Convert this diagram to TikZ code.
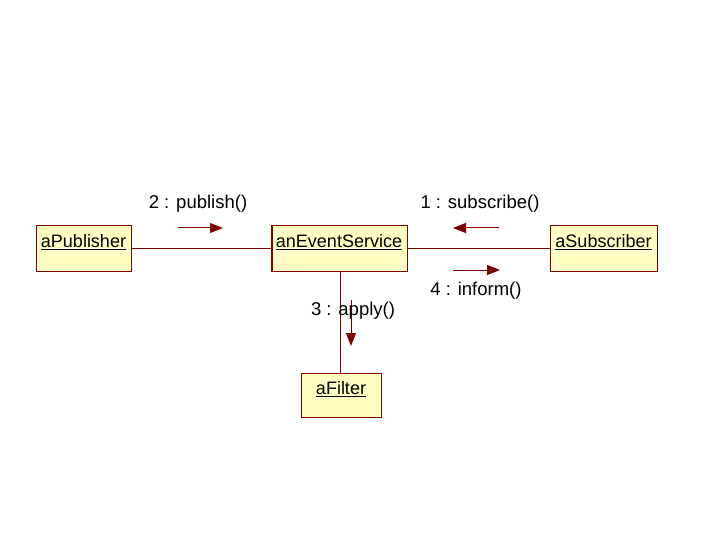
\documentclass[tikz,border=0pt]{standalone}
\usepackage{fontspec}
\setmainfont{Liberation Sans}
\usetikzlibrary{arrows.meta}
\definecolor{umlline}{RGB}{128,0,0}
\definecolor{umlfill}{RGB}{255,255,196}
\tikzset{
  obj/.style={draw=umlline, fill=umlfill, line width=1pt, inner sep=0pt},
  objtext/.style={font=\fontsize{18}{20}\selectfont, inner sep=0pt, anchor=base},
  lnk/.style={draw=umlline, line width=1pt},
  msg/.style={draw=umlline, line width=1pt, -{Triangle[length=13pt,width=10pt]}},
  msglabel/.style={font=\fontsize{18.5}{20}\selectfont, inner sep=0pt}
}
\begin{document}
\begin{tikzpicture}[x=1pt,y=-1pt]
\useasboundingbox (0,0) rectangle (720,540);
% object boxes
\path[obj] (36,226) rectangle (131,271);
\path[obj] (271,226) rectangle (407,271);
\path[obj] (550,226) rectangle (657,271);
\path[obj] (301,373) rectangle (381,417);
\node[objtext] (pub) at (83.5,247.5) {\underline{aPublisher}};
\node[objtext] (evt) at (339,247.5) {\underline{anEventService}};
\node[objtext] (sub) at (603.5,247.5) {\underline{aSubscriber}};
\node[objtext] (fil) at (341,394.5) {\underline{aFilter}};
% named anchors on box edges
\coordinate (pubR) at (131,248);
\coordinate (evtL) at (271,248);
\coordinate (evtR) at (407,248);
\coordinate (subL) at (550,248);
\coordinate (evtB) at (340,271);
\coordinate (filT) at (340,373);
% links
\draw[lnk] (pubR) -- (evtL);
\draw[lnk] (evtR) -- (subL);
\draw[lnk] (evtB) -- (filT);
\draw[umlline, line width=2pt] (272,226) -- (272,271);
% messages
\coordinate (m2a) at (178,228); \coordinate (m2b) at (223,228);
\coordinate (m1a) at (499,228); \coordinate (m1b) at (453,228);
\coordinate (m4a) at (453,270); \coordinate (m4b) at (500,270);
\coordinate (m3a) at (351,300); \coordinate (m3b) at (351,346);
\draw[msg] (m2a) -- (m2b);
\draw[msg] (m1a) -- (m1b);
\draw[msg] (m4a) -- (m4b);
\draw[msg] (m3a) -- (m3b);
\node[msglabel] (l2) at (198,204) {2 : publish()};
\node[msglabel] (l1) at (480,204) {1 : subscribe()};
\node[msglabel] (l4) at (476,291) {4 : inform()};
\node[msglabel] (l3) at (353,311) {3 : apply()};
\end{tikzpicture}
\end{document}
